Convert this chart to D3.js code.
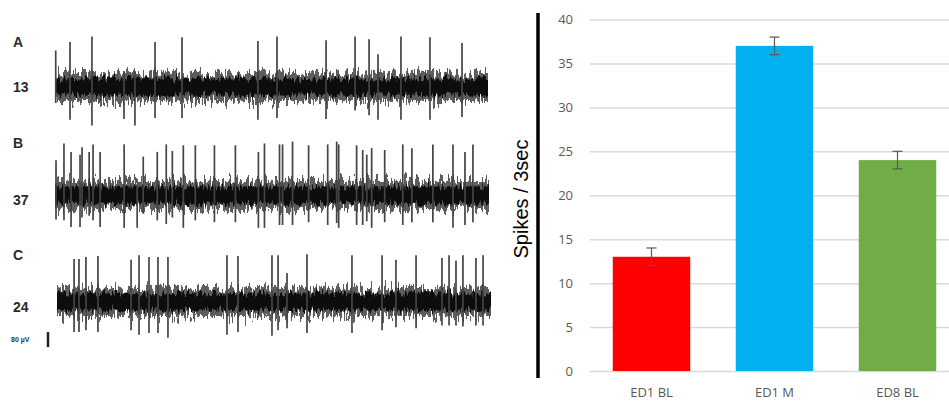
<!DOCTYPE html>
<html>
<head>
<meta charset="utf-8">
<script src="https://cdn.jsdelivr.net/npm/d3@7"></script>
<style>
  body { margin: 0; background: #fff; }
  svg { display: block; }
</style>
</head>
<body>
<div id="chart"></div>
<script>
// ---------- Bar chart data ----------
const categories = ["ED1 BL", "ED1 M", "ED8 BL"];
const spikeCounts = [13, 37, 24];
const spikeErrors = [1, 1, 1];
const barColors = ["#ff0000", "#00b0f0", "#70ad47"];
const yTicks = [0, 5, 10, 15, 20, 25, 30, 35, 40];

// ---------- Trace data: [time (s), peak up (µV), peak down (µV)] ----------
const traceLabels = ["A", "B", "C"];
const traceCounts = ["13", "37", "24"];
const spikesA = [
  [0.005, 195, 85], [0.104, 240, 175], [0.256, 270, 205], [0.478, 80, 170],
  [0.554, 80, 205], [0.693, 240, 165], [0.880, 265, 165], [1.406, 245, 175],
  [1.538, 270, 165], [1.878, 250, 170], [2.079, 270, 125], [2.176, 255, 150],
  [2.238, 175, 175], [2.397, 270, 175], [2.598, 265, 175], [2.820, 235, 160]
];
const spikesB = [
  [0.007, 185, 130], [0.062, 275, 135], [0.111, 230, 170], [0.173, 215, 170],
  [0.187, 255, 120], [0.236, 230, 110], [0.263, 270, 135], [0.312, 230, 170],
  [0.478, 270, 175], [0.568, 60, 175], [0.610, 205, 100], [0.707, 230, 135],
  [0.769, 270, 155], [0.811, 235, 120], [0.887, 265, 175], [0.970, 265, 135],
  [1.102, 265, 145], [1.247, 265, 145], [1.406, 230, 175], [1.448, 275, 175],
  [1.552, 270, 160], [1.573, 270, 160], [1.642, 285, 160], [1.753, 265, 145],
  [1.885, 270, 160], [1.947, 285, 150], [1.961, 270, 175], [2.085, 265, 160],
  [2.127, 240, 160], [2.155, 215, 140], [2.189, 250, 175], [2.279, 240, 145],
  [2.404, 270, 160], [2.467, 250, 145], [2.612, 270, 145], [2.751, 270, 175],
  [2.834, 230, 160], [2.889, 270, 145]
];
const spikesC = [
  [0.118, 230, 160], [0.152, 230, 160], [0.200, 240, 150], [0.283, 245, 160],
  [0.512, 225, 150], [0.567, 250, 175], [0.636, 240, 165], [0.698, 240, 165],
  [0.767, 240, 190], [1.175, 250, 175], [1.251, 245, 160], [1.486, 250, 180],
  [1.528, 250, 150], [1.590, 155, 140], [1.728, 255, 165], [2.039, 250, 165],
  [2.247, 250, 150], [2.343, 225, 135], [2.482, 250, 140], [2.661, 235, 125],
  [2.710, 250, 125], [2.758, 220, 125], [2.806, 250, 130], [2.896, 235, 125],
  [2.945, 250, 125]
];
const traceSpikes = [spikesA, spikesB, spikesC];
const scaleBarUV = 80;

const W = 949, H = 401;

const svg = d3.select("#chart")
  .append("svg")
  .attr("width", W)
  .attr("height", H)
  .style("font-family", "'Open Sans', 'Liberation Sans', sans-serif");

// ---------- Noise texture filters ----------
const defs = svg.append("defs");

function raggedFilter(id, freq, amount, seed) {
  const f = defs.append("filter")
    .attr("id", id)
    .attr("x", "-0.02").attr("y", "-1.5")
    .attr("width", "1.04").attr("height", "4");
  f.append("feTurbulence")
    .attr("type", "fractalNoise")
    .attr("baseFrequency", freq)
    .attr("numOctaves", 2)
    .attr("seed", seed)
    .attr("result", "turb");
  // keep x displacement neutral, only shake vertically
  f.append("feColorMatrix")
    .attr("in", "turb")
    .attr("type", "matrix")
    .attr("values", "0 0 0 0 0.5  0 1 0 0 0  0 0 1 0 0  0 0 0 0 1")
    .attr("result", "shift");
  f.append("feDisplacementMap")
    .attr("in", "SourceGraphic")
    .attr("in2", "shift")
    .attr("scale", amount)
    .attr("xChannelSelector", "R")
    .attr("yChannelSelector", "G");
}
raggedFilter("ragCore", "0.5 0.07", 16, 4);
raggedFilter("ragOuter", "0.45 0.06", 28, 9);

// slight blur like the scanned figure
defs.append("filter")
  .attr("id", "soft")
  .append("feGaussianBlur")
  .attr("stdDeviation", 0.6);

// ---------- Left panel: recordings ----------
const traceCenters = [87, 195, 302];
const traceRanges = [[55, 488], [55, 489], [57, 491]];
const labelY = [47, 148, 260];
const countY = [92, 205, 312];
const uvToPx = 15 / scaleBarUV;

traceSpikes.forEach((spikes, i) => {
  const cy = traceCenters[i];
  const x = d3.scaleLinear().domain([0, 3]).range(traceRanges[i]);
  const amp = d3.scaleLinear().domain([-400, 400]).range([cy + 400 * uvToPx, cy - 400 * uvToPx]);
  const g = svg.append("g").attr("filter", "url(#soft)");

  // outer gray fuzz
  g.append("rect")
    .attr("x", x(0)).attr("width", x(3) - x(0))
    .attr("y", amp(75)).attr("height", amp(-75) - amp(75))
    .attr("fill", "#333")
    .attr("opacity", 0.8)
    .attr("filter", "url(#ragOuter)");

  // dense black core
  g.append("rect")
    .attr("x", x(0)).attr("width", x(3) - x(0))
    .attr("y", amp(45)).attr("height", amp(-45) - amp(45))
    .attr("fill", "#080808")
    .attr("filter", "url(#ragCore)");

  // spikes
  g.selectAll("line.spike")
    .data(spikes)
    .enter()
    .append("line")
    .attr("class", "spike")
    .attr("x1", d => x(d[0])).attr("x2", d => x(d[0]))
    .attr("y1", d => amp(d[1]))
    .attr("y2", d => amp(-d[2]))
    .attr("stroke", "#444")
    .attr("stroke-width", 1.7);

  svg.append("text")
    .attr("x", 13).attr("y", labelY[i])
    .attr("font-family", "'Liberation Sans', Arial, sans-serif")
    .attr("font-weight", "bold")
    .attr("font-size", 14)
    .attr("fill", "#2a2a2a")
    .text(traceLabels[i]);

  svg.append("text")
    .attr("x", 13).attr("y", countY[i])
    .attr("font-family", "'Liberation Sans', Arial, sans-serif")
    .attr("font-weight", "bold")
    .attr("font-size", 14)
    .attr("fill", "#2a2a2a")
    .text(traceCounts[i]);
});

// scale bar
svg.append("text")
  .attr("x", 11).attr("y", 342)
  .attr("font-family", "'Liberation Sans', Arial, sans-serif")
  .attr("font-weight", "bold")
  .attr("font-size", 7)
  .attr("fill", "#333")
  .text(scaleBarUV + " µV");
svg.append("line")
  .attr("x1", 48).attr("x2", 48)
  .attr("y1", 332).attr("y2", 332 + scaleBarUV * uvToPx)
  .attr("stroke", "#222")
  .attr("stroke-width", 2.5);

// ---------- Right panel: bar chart ----------
const x = d3.scaleBand()
  .domain(categories)
  .range([590, 959])
  .paddingInner(0.37)
  .paddingOuter(0.185);

const y = d3.scaleLinear()
  .domain([0, 40])
  .range([371, 19.5]);

const yAxis = svg.append("g")
  .attr("transform", "translate(590,0)")
  .call(d3.axisLeft(y).tickValues(yTicks).tickSize(-(W - 590)).tickPadding(17));
yAxis.select(".domain").remove();
yAxis.selectAll(".tick line")
  .attr("stroke", "#d9d9d9")
  .attr("stroke-width", 1.5);
yAxis.selectAll(".tick text")
  .attr("fill", "#595959")
  .attr("font-size", 13)
  .attr("font-family", "'Open Sans', sans-serif");

// bars
svg.selectAll("rect.bar")
  .data(categories)
  .enter()
  .append("rect")
  .attr("class", "bar")
  .attr("x", d => x(d))
  .attr("width", x.bandwidth())
  .attr("y", (d, i) => y(spikeCounts[i]))
  .attr("height", (d, i) => y(0) - y(spikeCounts[i]))
  .attr("fill", (d, i) => barColors[i]);

// error bars
const eb = svg.selectAll("g.err")
  .data(categories)
  .enter()
  .append("g")
  .attr("class", "err")
  .attr("stroke", "#595959")
  .attr("stroke-width", 1.2);
eb.append("line")
  .attr("x1", d => x(d) + x.bandwidth() / 2)
  .attr("x2", d => x(d) + x.bandwidth() / 2)
  .attr("y1", (d, i) => y(spikeCounts[i] + spikeErrors[i]))
  .attr("y2", (d, i) => y(spikeCounts[i] - spikeErrors[i]));
[1, -1].forEach(s => {
  eb.append("line")
    .attr("x1", d => x(d) + x.bandwidth() / 2 - 5)
    .attr("x2", d => x(d) + x.bandwidth() / 2 + 5)
    .attr("y1", (d, i) => y(spikeCounts[i] + s * spikeErrors[i]))
    .attr("y2", (d, i) => y(spikeCounts[i] + s * spikeErrors[i]));
});

// category labels
svg.selectAll("text.cat")
  .data(categories)
  .enter()
  .append("text")
  .attr("class", "cat")
  .attr("x", d => x(d) + x.bandwidth() / 2)
  .attr("y", 397)
  .attr("text-anchor", "middle")
  .attr("fill", "#595959")
  .attr("font-size", 13)
  .text(d => d);

// thick black axis bar
svg.append("line")
  .attr("x1", 538).attr("x2", 538)
  .attr("y1", 13).attr("y2", 378)
  .attr("stroke", "#000")
  .attr("stroke-width", 3.5);

// y axis title
svg.append("text")
  .attr("transform", "translate(528,199) rotate(-90)")
  .attr("text-anchor", "middle")
  .attr("font-family", "'Liberation Sans', Arial, sans-serif")
  .attr("font-size", 20)
  .attr("fill", "#000")
  .text("Spikes / 3sec");
</script>
</body>
</html>
